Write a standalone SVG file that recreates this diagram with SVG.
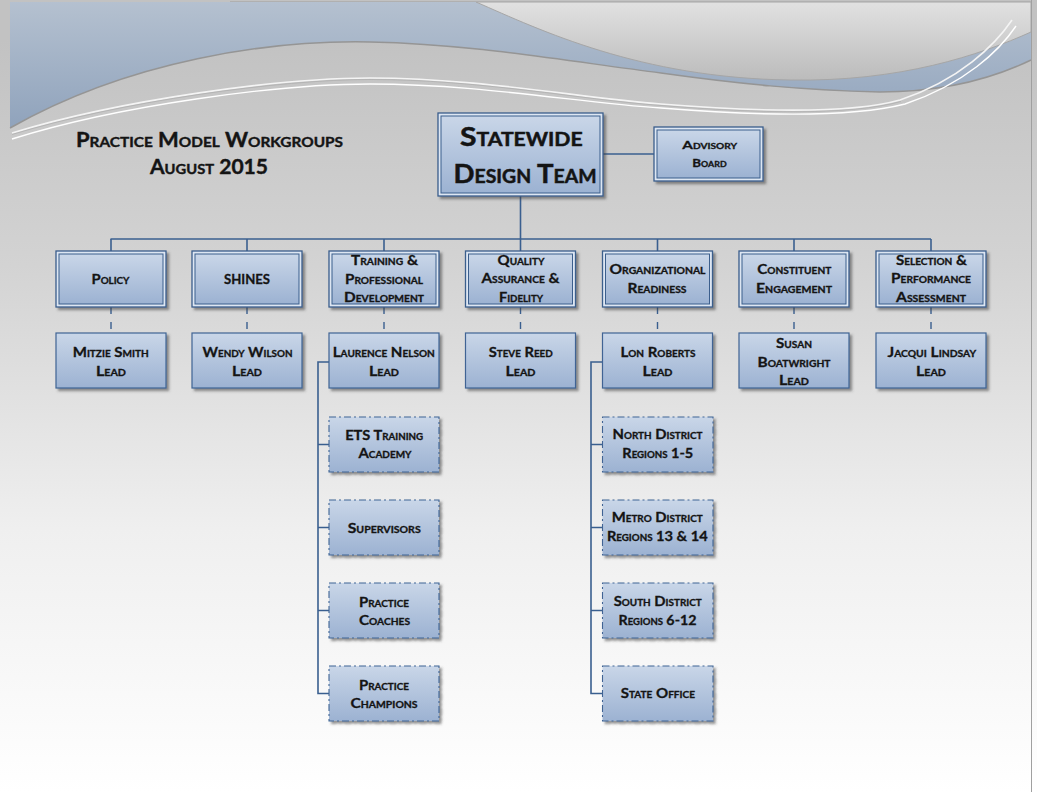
<svg xmlns="http://www.w3.org/2000/svg" width="1037" height="792" viewBox="0 0 1037 792">
<defs>
  <linearGradient id="pageg" gradientUnits="userSpaceOnUse" x1="0" y1="40" x2="0" y2="792">
    <stop offset="0" stop-color="#c2c2c2"/>
    <stop offset="0.3" stop-color="#d3d3d3"/>
    <stop offset="0.65" stop-color="#efefef"/>
    <stop offset="1" stop-color="#ffffff"/>
  </linearGradient>
  <linearGradient id="blueg" gradientUnits="userSpaceOnUse" x1="0" y1="0" x2="0" y2="140">
    <stop offset="0" stop-color="#b5c1d0"/>
    <stop offset="1" stop-color="#8ca0ba"/>
  </linearGradient>
  <linearGradient id="trg" gradientUnits="userSpaceOnUse" x1="0" y1="0" x2="0" y2="85">
    <stop offset="0" stop-color="#e2e2e2"/>
    <stop offset="1" stop-color="#b9b9b9"/>
  </linearGradient>
  <linearGradient id="boxg" x1="0" y1="0" x2="0" y2="1">
    <stop offset="0" stop-color="#c9d6e8"/>
    <stop offset="1" stop-color="#9cb2d2"/>
  </linearGradient>
  <filter id="sh" x="-10%" y="-10%" width="125%" height="130%">
    <feDropShadow dx="2.5" dy="2.5" stdDeviation="1.2" flood-color="#404040" flood-opacity="0.55"/>
  </filter>
  <style>
    .t { font-family: Lato, "Liberation Sans", sans-serif; font-weight: bold; font-variant: small-caps; fill: #141414; stroke: #141414; stroke-width: 0.3; text-anchor: middle; font-size: 13.5px; }
    .big { font-size: 27px; stroke-width: 0.5; }
    .ttl { font-size: 20px; stroke-width: 0.4; }
    .adv { font-size: 12px; }
    .outer { fill: #dde6f2; stroke: #3b5e8c; stroke-width: 1.3; filter: url(#sh); }
    .inner { fill: url(#boxg); stroke: #3b5e8c; stroke-width: 1; }
    .lead { fill: url(#boxg); stroke: #3f6494; stroke-width: 1.2; filter: url(#sh); }
    .dbox { fill: url(#boxg); stroke: #3f6494; stroke-width: 1.1; stroke-dasharray: 7 3 2 3; filter: url(#sh); }
    .conn { stroke: #3a5f8f; stroke-width: 1.6; fill: none; }
    .dconn { stroke: #3a5f8f; stroke-width: 1.4; fill: none; stroke-dasharray: 7 8; }
  </style>
</defs>

<g id="background">
  <rect x="0" y="0" width="1037" height="792" fill="url(#pageg)"/>
  <rect x="10" y="2" width="1021" height="140" fill="url(#blueg)"/>
  <path d="M476,2 C540,30 640,78 790,80 C900,82 980,55 1031,32 L1031,2 Z" fill="url(#trg)" stroke="#a6a6a6" stroke-width="1"/>
  <path d="M10,128 C130,60 270,40 370,42 C470,44 560,60 661,73 C740,84 800,90 880,92 C950,92 1000,75 1031,60 L1031,792 L10,792 Z" fill="url(#pageg)"/>
  <path d="M10,128 C130,60 270,40 370,42 C470,44 560,60 661,73 C740,84 800,90 880,92 C950,92 1000,75 1031,60" fill="none" stroke="#959595" stroke-width="1.5"/>
  <path d="M12,133 C120,100 280,78 370,78 C480,78 580,98 661,104 C760,112 850,114 900,100 C960,80 995,45 1012,20" fill="none" stroke="#f4f4f4" stroke-width="1.6"/>
  <path d="M12,139 C120,105 280,84 370,84 C480,84 580,103 661,108 C760,116 850,118 905,104 C965,84 1000,50 1016,26" fill="none" stroke="#ffffff" stroke-width="1.4"/>
  <path d="M12,134.5 C120,101.5 280,79.5 370,79.5 C480,79.5 580,99.5 661,105.5 C760,113.5 850,115.5 901,101.5" fill="none" stroke="#a8a8a8" stroke-width="0.6"/>
  <line x1="1031.5" y1="0" x2="1031.5" y2="792" stroke="#a0a0a0" stroke-width="1"/>
  <line x1="230" y1="1.5" x2="1031" y2="1.5" stroke="#b0b0b0" stroke-width="1"/>
</g>

<g id="title">
  <text class="t ttl" x="209.5" y="147" textLength="267" lengthAdjust="spacingAndGlyphs">Practice Model Workgroups</text>
  <text class="t ttl" x="209" y="174" textLength="118" lengthAdjust="spacingAndGlyphs">August 2015</text>
</g>

<g id="connectors">
  <line class="conn" x1="520.5" y1="196" x2="520.5" y2="251"/>
  <line class="conn" x1="110.5" y1="239" x2="931" y2="239"/>
  <line class="conn" x1="111" y1="239" x2="111" y2="251"/>
  <line class="conn" x1="247" y1="239" x2="247" y2="251"/>
  <line class="conn" x1="384" y1="239" x2="384" y2="251"/>
  <line class="conn" x1="657.5" y1="239" x2="657.5" y2="251"/>
  <line class="conn" x1="794" y1="239" x2="794" y2="251"/>
  <line class="conn" x1="931" y1="239" x2="931" y2="251"/>
  <line class="conn" x1="603" y1="154" x2="654" y2="154"/>
  <line class="dconn" x1="111" y1="307" x2="111" y2="333"/>
  <line class="dconn" x1="247" y1="307" x2="247" y2="333"/>
  <line class="dconn" x1="384" y1="307" x2="384" y2="333"/>
  <line class="dconn" x1="520.5" y1="307" x2="520.5" y2="333"/>
  <line class="dconn" x1="657.5" y1="307" x2="657.5" y2="333"/>
  <line class="dconn" x1="794" y1="307" x2="794" y2="333"/>
  <line class="dconn" x1="931" y1="307" x2="931" y2="333"/>
  <path class="conn" d="M329,362 H318 V693.5 H329 M318,444.5 H329 M318,527.5 H329 M318,610.5 H329"/>
  <path class="conn" d="M603,362 H591 V693.5 H602 M591,444.5 H602 M591,527.5 H602 M591,610.5 H602"/>
</g>

<g id="node-statewide">
  <rect class="outer" x="438" y="113" width="165" height="83"/>
  <rect class="inner" x="441" y="116" width="159" height="77"/>
  <text class="t big" x="521.3" y="146" textLength="122.7" lengthAdjust="spacingAndGlyphs">Statewide</text>
  <text class="t big" x="525" y="183.3" textLength="143" lengthAdjust="spacingAndGlyphs">Design Team</text>
</g>
<g id="node-advisory">
  <rect class="outer" x="654" y="127" width="109" height="54"/>
  <rect class="inner" x="657" y="130" width="103" height="48"/>
  <text class="t adv" x="709.7" y="149.3" textLength="54.7" lengthAdjust="spacingAndGlyphs">Advisory</text>
  <text class="t adv" x="709.5" y="166.7" textLength="34.3" lengthAdjust="spacingAndGlyphs">Board</text>
</g>

<g id="node-policy">
  <rect class="outer" x="56" y="251" width="110" height="56"/>
  <rect class="inner" x="59" y="254" width="104" height="50"/>
  <text class="t" x="110.5" y="284" textLength="38" lengthAdjust="spacingAndGlyphs">Policy</text>
</g>
<g id="node-shines">
  <rect class="outer" x="192" y="251" width="110" height="56"/>
  <rect class="inner" x="195" y="254" width="104" height="50"/>
  <text class="t" x="247" y="284" textLength="46" lengthAdjust="spacingAndGlyphs">SHINES</text>
</g>
<g id="node-training">
  <rect class="outer" x="329" y="251" width="110" height="56"/>
  <rect class="inner" x="332" y="254" width="104" height="50"/>
  <text class="t" x="384.5" y="265" textLength="67" lengthAdjust="spacingAndGlyphs">Training &amp;</text>
  <text class="t" x="384" y="283.5" textLength="78" lengthAdjust="spacingAndGlyphs">Professional</text>
  <text class="t" x="384" y="302" textLength="80" lengthAdjust="spacingAndGlyphs">Development</text>
</g>
<g id="node-quality">
  <rect class="outer" x="465.5" y="251" width="110" height="56"/>
  <rect class="inner" x="468.5" y="254" width="104" height="50"/>
  <text class="t" x="521" y="264.5" textLength="47" lengthAdjust="spacingAndGlyphs">Quality</text>
  <text class="t" x="520.5" y="283.3" textLength="78" lengthAdjust="spacingAndGlyphs">Assurance &amp;</text>
  <text class="t" x="521" y="301.5" textLength="44" lengthAdjust="spacingAndGlyphs">Fidelity</text>
</g>
<g id="node-organizational">
  <rect class="outer" x="602.5" y="251" width="110" height="56"/>
  <rect class="inner" x="605.5" y="254" width="104" height="50"/>
  <text class="t" x="657.5" y="273.5" textLength="96" lengthAdjust="spacingAndGlyphs">Organizational</text>
  <text class="t" x="657" y="292.7" textLength="59" lengthAdjust="spacingAndGlyphs">Readiness</text>
</g>
<g id="node-constituent">
  <rect class="outer" x="739" y="251" width="110" height="56"/>
  <rect class="inner" x="742" y="254" width="104" height="50"/>
  <text class="t" x="794.3" y="273.5" textLength="74" lengthAdjust="spacingAndGlyphs">Constituent</text>
  <text class="t" x="794" y="292.7" textLength="76" lengthAdjust="spacingAndGlyphs">Engagement</text>
</g>
<g id="node-selection">
  <rect class="outer" x="876" y="251" width="110" height="56"/>
  <rect class="inner" x="879" y="254" width="104" height="50"/>
  <text class="t" x="931.4" y="264.5" textLength="71" lengthAdjust="spacingAndGlyphs">Selection &amp;</text>
  <text class="t" x="931" y="283.3" textLength="80" lengthAdjust="spacingAndGlyphs">Performance</text>
  <text class="t" x="931" y="301.5" textLength="70" lengthAdjust="spacingAndGlyphs">Assessment</text>
</g>

<g id="node-lead-smith">
  <rect class="lead" x="56" y="333" width="110" height="55"/>
  <text class="t" x="110.7" y="357" textLength="76" lengthAdjust="spacingAndGlyphs">Mitzie Smith</text>
  <text class="t" x="111" y="376" textLength="30" lengthAdjust="spacingAndGlyphs">Lead</text>
</g>
<g id="node-lead-wilson">
  <rect class="lead" x="192" y="333" width="110" height="55"/>
  <text class="t" x="247.5" y="357" textLength="90" lengthAdjust="spacingAndGlyphs">Wendy Wilson</text>
  <text class="t" x="247" y="376" textLength="30" lengthAdjust="spacingAndGlyphs">Lead</text>
</g>
<g id="node-lead-nelson">
  <rect class="lead" x="329" y="333" width="110" height="55"/>
  <text class="t" x="383.8" y="357" textLength="102" lengthAdjust="spacingAndGlyphs">Laurence Nelson</text>
  <text class="t" x="384" y="376" textLength="30" lengthAdjust="spacingAndGlyphs">Lead</text>
</g>
<g id="node-lead-reed">
  <rect class="lead" x="465.5" y="333" width="110" height="55"/>
  <text class="t" x="520.7" y="357" textLength="64" lengthAdjust="spacingAndGlyphs">Steve Reed</text>
  <text class="t" x="520.5" y="376" textLength="30" lengthAdjust="spacingAndGlyphs">Lead</text>
</g>
<g id="node-lead-roberts">
  <rect class="lead" x="602.5" y="333" width="110" height="55"/>
  <text class="t" x="658" y="357" textLength="75" lengthAdjust="spacingAndGlyphs">Lon Roberts</text>
  <text class="t" x="657.5" y="376" textLength="30" lengthAdjust="spacingAndGlyphs">Lead</text>
</g>
<g id="node-lead-boatwright">
  <rect class="lead" x="739" y="333" width="110" height="55"/>
  <text class="t" x="794" y="347.7" textLength="36" lengthAdjust="spacingAndGlyphs">Susan</text>
  <text class="t" x="794" y="366.5" textLength="73" lengthAdjust="spacingAndGlyphs">Boatwright</text>
  <text class="t" x="794" y="385" textLength="30" lengthAdjust="spacingAndGlyphs">Lead</text>
</g>
<g id="node-lead-lindsay">
  <rect class="lead" x="876" y="333" width="110" height="55"/>
  <text class="t" x="931.8" y="357" textLength="88.6" lengthAdjust="spacingAndGlyphs">Jacqui Lindsay</text>
  <text class="t" x="931" y="376" textLength="30" lengthAdjust="spacingAndGlyphs">Lead</text>
</g>

<g id="node-ets">
  <rect class="dbox" x="329" y="417" width="110" height="55"/>
  <text class="t" x="384.2" y="440" textLength="78" lengthAdjust="spacingAndGlyphs">ETS Training</text>
  <text class="t" x="385" y="458.3" textLength="53" lengthAdjust="spacingAndGlyphs">Academy</text>
</g>
<g id="node-supervisors">
  <rect class="dbox" x="329" y="500" width="110" height="55"/>
  <text class="t" x="384.2" y="532.7" textLength="73" lengthAdjust="spacingAndGlyphs">Supervisors</text>
</g>
<g id="node-coaches">
  <rect class="dbox" x="329" y="583" width="110" height="55"/>
  <text class="t" x="384" y="607.3" textLength="50" lengthAdjust="spacingAndGlyphs">Practice</text>
  <text class="t" x="384.5" y="625" textLength="51" lengthAdjust="spacingAndGlyphs">Coaches</text>
</g>
<g id="node-champions">
  <rect class="dbox" x="329" y="666" width="110" height="55"/>
  <text class="t" x="384" y="690" textLength="50" lengthAdjust="spacingAndGlyphs">Practice</text>
  <text class="t" x="384" y="708.3" textLength="67" lengthAdjust="spacingAndGlyphs">Champions</text>
</g>

<g id="node-north">
  <rect class="dbox" x="602.5" y="417" width="110.5" height="55"/>
  <text class="t" x="657.5" y="438.5" textLength="90" lengthAdjust="spacingAndGlyphs">North District</text>
  <text class="t" x="657.8" y="457.7" textLength="71" lengthAdjust="spacingAndGlyphs">Regions 1-5</text>
</g>
<g id="node-metro">
  <rect class="dbox" x="602.5" y="500" width="110.5" height="55"/>
  <text class="t" x="657.2" y="521.7" textLength="91" lengthAdjust="spacingAndGlyphs">Metro District</text>
  <text class="t" x="657.3" y="541" textLength="100.7" lengthAdjust="spacingAndGlyphs">Regions 13 &amp; 14</text>
</g>
<g id="node-south">
  <rect class="dbox" x="602.5" y="583" width="110.5" height="55"/>
  <text class="t" x="657.7" y="606" textLength="88" lengthAdjust="spacingAndGlyphs">South District</text>
  <text class="t" x="657.5" y="624.8" textLength="78" lengthAdjust="spacingAndGlyphs">Regions 6-12</text>
</g>
<g id="node-state-office">
  <rect class="dbox" x="602.5" y="666" width="110.5" height="55"/>
  <text class="t" x="657.8" y="698.3" textLength="74.3" lengthAdjust="spacingAndGlyphs">State Office</text>
</g>
</svg>
